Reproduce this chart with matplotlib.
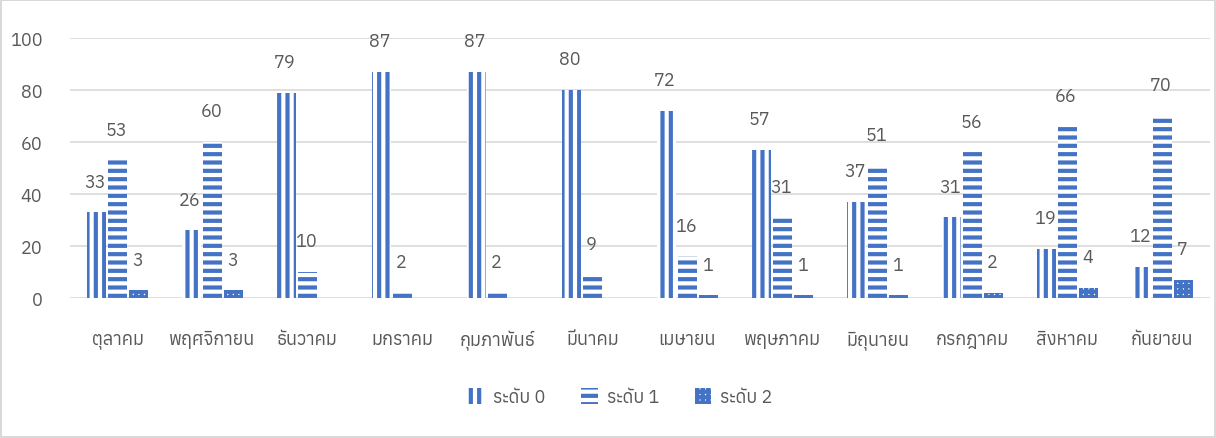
import numpy as np
import matplotlib
matplotlib.use("Agg")
import matplotlib.pyplot as plt
from matplotlib import font_manager
from matplotlib.ft2font import FT2Font

# Data
months = ["ตุลาคม", "พฤศจิกายน", "ธันวาคม", "มกราคม", "กุมภาพันธ์", "มีนาคม",
          "เมษายน", "พฤษภาคม", "มิถุนายน", "กรกฎาคม", "สิงหาคม", "กันยายน"]
level0 = [33, 26, 79, 87, 87, 80, 72, 57, 37, 31, 19, 12]
level1 = [53, 60, 10, 2, 2, 9, 16, 31, 51, 56, 66, 70]
level2 = [3, 3, None, None, None, None, 1, 1, 1, 2, 4, 7]
series_names = ["ระดับ 0", "ระดับ 1", "ระดับ 2"]
yticks = [0, 20, 40, 60, 80, 100]

# find a font that has Thai glyphs
thai_fonts = []
for f in font_manager.fontManager.ttflist:
    try:
        if 0x0E01 in FT2Font(f.fname).get_charmap():
            thai_fonts.append(f.name)
    except Exception:
        pass
plt.rcParams["font.family"] = sorted(set(thai_fonts)) + ["DejaVu Sans"]
plt.rcParams["hatch.linewidth"] = 3.0
plt.rcParams["hatch.color"] = "#4472C4"

BLUE = "#4472C4"
TXT = "#595959"
GRID = "#D9D9D9"

fig = plt.figure(figsize=(12.16, 4.39), dpi=100, edgecolor=GRID, linewidth=1.5)
ax = fig.add_axes([0.0576, 0.319, 0.9374, 0.592])

x = np.arange(len(months))
w = 0.2
off = 0.225
hatches = ["||", "--", "+++"]
for i, vals in enumerate([level0, level1, level2]):
    v = np.array([np.nan if a is None else a for a in vals], dtype=float)
    ax.bar(x + (i - 1) * off, v, w, color="white", edgecolor=BLUE,
           linewidth=0, hatch=hatches[i], label=series_names[i])
    for xi, val in zip(x, vals):
        if val is None:
            continue
        ax.annotate(str(val), (xi + (i - 1) * off, val), xytext=(-1, 22),
                    textcoords="offset points", ha="center", va="center",
                    fontsize=13, color=TXT)

ax.set_xlim(-0.5, len(months) - 0.5)
ax.set_ylim(0, 100)
ax.set_yticks(yticks)
ax.set_xticks(x)
ax.set_xticklabels(months)
ax.tick_params(axis="both", length=0, labelsize=13, labelcolor=TXT)
ax.tick_params(axis="x", pad=23)
ax.tick_params(axis="y", pad=20)
ax.grid(axis="y", color=GRID, linewidth=1.2)
ax.set_axisbelow(True)
for s in ax.spines.values():
    s.set_visible(False)

leg = fig.legend(loc="center", bbox_to_anchor=(0.51, 0.093), ncol=3, frameon=False,
                 fontsize=13, handlelength=0.9, handleheight=1.0, columnspacing=2.0,
                 handletextpad=0.5)
for t in leg.get_texts():
    t.set_color(TXT)

fig.savefig("out.png", dpi=100)
